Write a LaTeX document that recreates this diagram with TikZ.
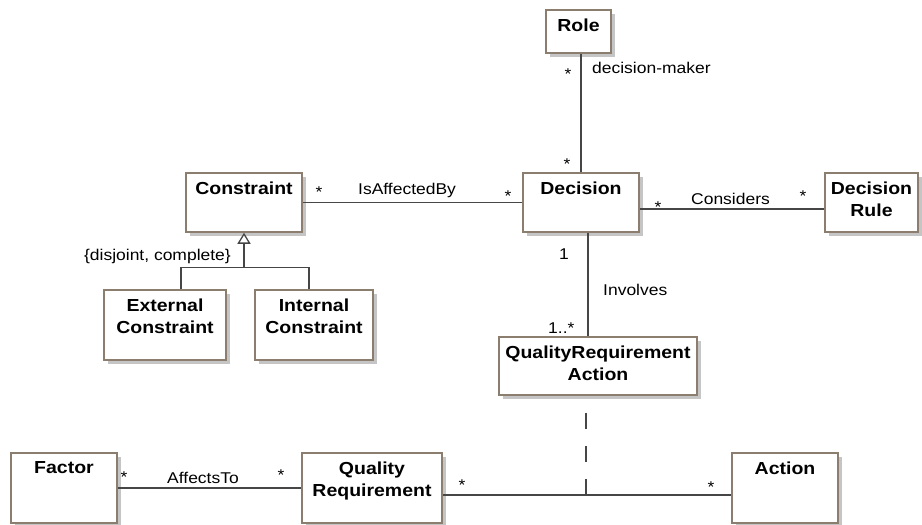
\documentclass[tikz,border=0pt]{standalone}
\usepackage{fontspec}
\setmainfont{Liberation Sans}[FakeStretch=1.12]
\usetikzlibrary{arrows.meta,shadows}

\definecolor{boxline}{RGB}{140,126,110}
\definecolor{wire}{RGB}{70,70,70}

\begin{document}
\begin{tikzpicture}[x=1pt,y=-1pt,
  cls/.style={rectangle, draw=boxline, line width=1.5pt, fill=white, inner sep=0pt,
    drop shadow={shadow xshift=4pt, shadow yshift=-4pt, fill=black!45, opacity=0.5}},
  clsname/.style={anchor=north, inner sep=0pt, align=center,
    font=\fontsize{17.4}{22}\selectfont\bfseries},
  assoc/.style={draw=wire, line width=1.3pt},
  lbl/.style={inner sep=0pt, font=\fontsize{15.6}{18}\selectfont},
  mult/.style={lbl, anchor=base}
]
\useasboundingbox (0,0) rectangle (922,525);

% classes
\node[cls, minimum width=65pt,  minimum height=43pt] (role)       at (578.5,31.5) {};
\node[cls, minimum width=116pt, minimum height=59pt] (constraint) at (244,202.5) {};
\node[cls, minimum width=116pt, minimum height=59pt] (decision)   at (581,202.5) {};
\node[cls, minimum width=93pt,  minimum height=59pt] (rule)       at (871.5,202.5) {};
\node[cls, minimum width=122pt, minimum height=70pt] (ext)        at (165,325) {};
\node[cls, minimum width=118pt, minimum height=70pt] (int)        at (314,325) {};
\node[cls, minimum width=198pt, minimum height=58pt] (qra)        at (598,366) {};
\node[cls, minimum width=106pt, minimum height=70pt] (factor)     at (64,488) {};
\node[cls, minimum width=140pt, minimum height=70pt] (qr)         at (372,488) {};
\node[cls, minimum width=106pt, minimum height=70pt] (action)     at (785,488) {};

% class names
\node[clsname] (role-t)       at ([yshift=-9.5pt]role.north) {Role};
\node[clsname] (constraint-t) at ([yshift=-9.5pt]constraint.north) {Constraint};
\node[clsname] (decision-t)   at ([yshift=-9.5pt]decision.north) {Decision};
\node[clsname] (rule-t)       at ([yshift=-9.5pt]rule.north) {Decision\\Rule};
\node[clsname] (ext-t)        at ([yshift=-9.5pt]ext.north) {External\\Constraint};
\node[clsname] (int-t)        at ([yshift=-9.5pt]int.north) {Internal\\Constraint};
\node[clsname] (qra-t)        at ([yshift=-9.5pt]qra.north) {QualityRequirement\\Action};
\node[clsname] (factor-t)     at ([yshift=-9.5pt]factor.north) {Factor};
\node[clsname] (qr-t)         at ([yshift=-9.5pt]qr.north) {Quality\\Requirement};
\node[clsname] (action-t)     at ([yshift=-9.5pt]action.north) {Action};

% generalization of Constraint
\path (constraint.south) ++(0,35) coordinate (gj);
\draw[assoc] ([xshift=16pt]ext.north) |- (gj);
\draw[assoc] ([xshift=-5pt]int.north) |- (gj);
\draw[assoc, -{Triangle[open, fill=white, length=11pt, width=13pt]}] (gj) -- (constraint.south);

% associations
\draw[assoc] (decision.north) -- (decision.north |- role.south);
\draw[assoc] (constraint.east) -- (decision.west);
\draw[assoc] ([yshift=-6.5pt]decision.east) -- ([yshift=-6.5pt]decision.east -| rule.west);
\draw[assoc] ([xshift=7pt]decision.south) -- ([xshift=7pt]decision.south |- qra.north);
\draw[assoc] (factor.east) -- (qr.west);
\draw[assoc] ([yshift=-7pt]qr.east) -- ([yshift=-7pt]qr.east -| action.west);

% association class link
\coordinate (ajx) at (586,0);
\coordinate (aj) at ([yshift=-7pt]qr.east -| ajx);
\draw[assoc, dash pattern=on 16pt off 17pt, dash phase=16pt] (aj |- qra.south) -- (aj);

% labels and multiplicities
\node[mult] (m-role) at (568,79) {*};
\node[lbl, anchor=base west] (l-dm) at (592,73) {decision-maker};
\node[mult] (m-dtop) at (567,169) {*};

\node[mult] (m-con) at (319,197) {*};
\node[lbl, anchor=base west] (l-iab) at (358,194) {IsAffectedBy};
\node[mult] (m-dleft) at (508,201) {*};

\node[mult] (m-dright) at (658,212) {*};
\node[lbl, anchor=base west] (l-cons) at (691,204) {Considers};
\node[mult] (m-rule) at (803,201) {*};

\node[mult] (m-one) at (564,259) {1};
\node[lbl, anchor=base west] (l-inv) at (603,295) {Involves};
\node[lbl, anchor=base west] (m-many) at (548,333) {1..*};

\node[lbl, anchor=base east] (l-gen) at (231,260) {\{disjoint, complete\}};

\node[mult] (m-fac) at (124,482) {*};
\node[lbl, anchor=base west] (l-aff) at (167,483) {AffectsTo};
\node[mult] (m-qrl) at (281,480) {*};
\node[mult] (m-qrr) at (462,490) {*};
\node[mult] (m-act) at (711,492) {*};
\end{tikzpicture}
\end{document}
